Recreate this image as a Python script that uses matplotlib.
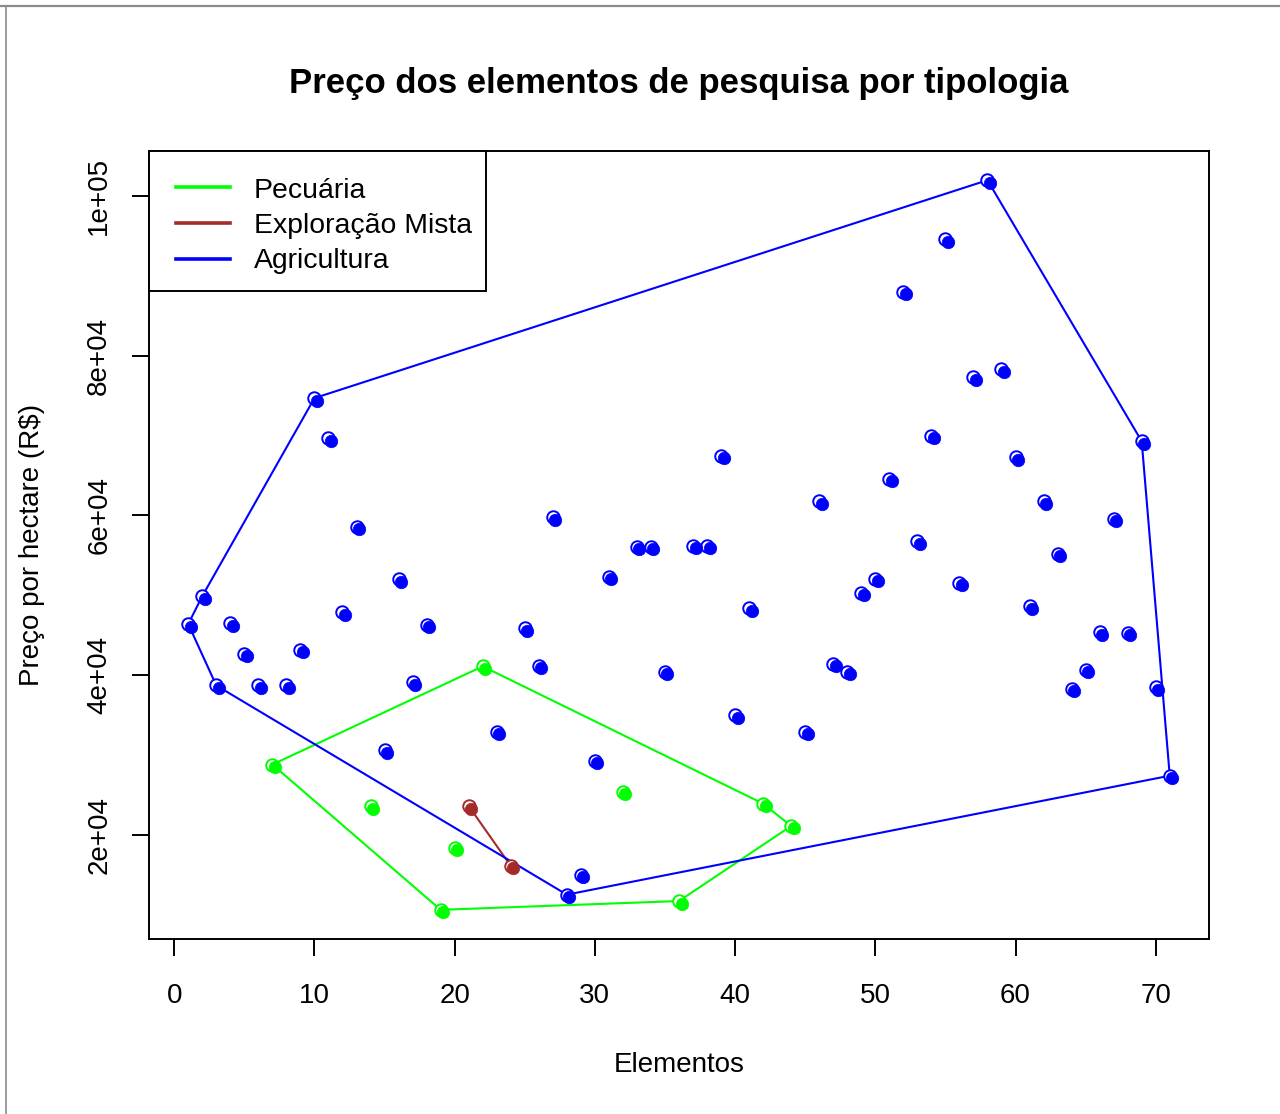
import matplotlib
matplotlib.use("Agg")
import matplotlib.pyplot as plt
from matplotlib.lines import Line2D
from matplotlib.patches import Rectangle
from matplotlib.transforms import ScaledTranslation
import numpy as np

plt.rcParams["font.family"] = ["Liberation Sans", "DejaVu Sans"]

# Element index, price per hectare and typology of each research element
elemento = [1, 2, 3, 4, 5, 6, 7, 8, 9, 10,
            11, 12, 13, 14, 15, 16, 17, 18, 19, 20,
            21, 22, 23, 24, 25, 26, 27, 28, 29, 30,
            31, 32, 33, 34, 35, 36, 37, 38, 39, 40,
            41, 42, 44, 45, 46, 47, 48, 49, 50,
            51, 52, 53, 54, 55, 56, 57, 58, 59, 60,
            61, 62, 63, 64, 65, 66, 67, 68, 69, 70, 71]
preco = [46400, 49900, 38700, 46500, 42700, 38700, 28800, 38700, 43200, 74700,
         69700, 47900, 58600, 23600, 30600, 52000, 39100, 46300, 10600, 18400,
         23600, 41100, 32900, 16100, 45900, 41200, 59800, 12500, 15000, 29300,
         52300, 25400, 56100, 56100, 40400, 11700, 56200, 56200, 67500, 35000,
         48400, 23900, 21100, 32900, 61800, 41400, 40400, 50300, 52100,
         64600, 88000, 56800, 70000, 94600, 51600, 77300, 102000, 78300, 67300,
         48600, 61800, 55200, 38300, 40700, 45400, 59600, 45300, 69300, 38500, 27400]
tipologia = ["A", "A", "A", "A", "A", "A", "P", "A", "A", "A",
             "A", "A", "A", "P", "A", "A", "A", "A", "P", "P",
             "M", "P", "A", "M", "A", "A", "A", "A", "A", "A",
             "A", "P", "A", "A", "A", "P", "A", "A", "A", "A",
             "A", "P", "P", "A", "A", "A", "A", "A", "A",
             "A", "A", "A", "A", "A", "A", "A", "A", "A", "A",
             "A", "A", "A", "A", "A", "A", "A", "A", "A", "A", "A"]

grupos = ["P", "M", "A"]
nomes = ["Pecuária", "Exploração Mista", "Agricultura"]
cores = ["#00FF00", "#A52A2A", "#0000FF"]

W, H = 1280, 1114


def fx(px):
    return px / W


def fy(py):
    return 1 - py / H


def hull(pts):
    """Convex hull (monotone chain), returned as a closed ring."""
    pts = sorted(set(pts))
    if len(pts) < 3:
        return pts

    def cross(o, a, b):
        return (a[0] - o[0]) * (b[1] - o[1]) - (a[1] - o[1]) * (b[0] - o[0])

    lower, upper = [], []
    for p in pts:
        while len(lower) >= 2 and cross(lower[-2], lower[-1], p) <= 0:
            lower.pop()
        lower.append(p)
    for p in reversed(pts):
        while len(upper) >= 2 and cross(upper[-2], upper[-1], p) <= 0:
            upper.pop()
        upper.append(p)
    ring = lower[:-1] + upper[:-1]
    return ring + [ring[0]]


fig = plt.figure(figsize=(W / 100, H / 100), dpi=100)
ax = fig.add_axes([fx(149), fy(939), fx(1209) - fx(149), fy(151) - fy(939)])

x = np.array(elemento)
y = np.array(preco)
t = np.array(tipologia)

shift = ScaledTranslation(2.5 / 100, -2.5 / 100, fig.dpi_scale_trans)

for g, cor in zip(grupos, cores):
    m = t == g
    ring = hull(list(zip(x[m], y[m])))
    hx, hy = zip(*ring)
    ax.plot(hx, hy, color=cor, lw=1.5, zorder=2)

for g, cor in zip(grupos, cores):
    m = t == g
    ax.plot(x[m], y[m], ls="none", marker="o", ms=9, mfc="white",
            mec=cor, mew=1.4, zorder=3)
    ax.plot(x[m], y[m], ls="none", marker="o", ms=9, mfc=cor, mec=cor,
            mew=0.5, zorder=4, transform=ax.transData + shift)

ax.margins(0.04)
ax.set_xticks(np.arange(0, 71, 10))
ax.set_yticks(np.arange(20000, 100001, 20000))
ax.set_yticklabels(["2e+04", "4e+04", "6e+04", "8e+04", "1e+05"])
for s in ax.spines.values():
    s.set_linewidth(1.4)
ax.tick_params(axis="both", length=12.5, width=1.4, labelsize=20)
ax.tick_params(axis="x", pad=19)
ax.tick_params(axis="y", pad=14, labelrotation=90)
for lbl in ax.get_yticklabels():
    lbl.set_va("center")

fig.text(fx(679), fy(84), "Preço dos elementos de pesquisa por tipologia",
         ha="center", va="center", fontsize=25, fontweight="bold")
fig.text(fx(679), fy(1065), "Elementos", ha="center", va="center", fontsize=20)
fig.text(fx(32), fy(545), "Preço por hectare (R$)", ha="center", va="center",
         rotation=90, fontsize=20)

# Legend box in the top-left corner of the plot region
fig.add_artist(Rectangle((fx(149), fy(291)), fx(486) - fx(149), fy(151) - fy(291),
                         transform=fig.transFigure, fill=True, fc="white",
                         ec="black", lw=1.4, zorder=5))
for i, (nome, cor) in enumerate(zip(nomes, cores)):
    yy = fy(187 + 36 * i)
    fig.add_artist(Line2D([fx(176), fx(230)], [yy, yy], color=cor, lw=2.6,
                          transform=fig.transFigure, zorder=6))
    fig.text(fx(254), fy(191 + 35 * i), nome, ha="left", va="center",
             fontsize=20.4, zorder=6)

# Thin grey frame along the top and left edges
fig.add_artist(Line2D([0, 1], [fy(5.5), fy(5.5)], color="#8c8c8c", lw=1.6,
                      transform=fig.transFigure))
fig.add_artist(Line2D([fx(5.5), fx(5.5)], [fy(5.5), 0], color="#8c8c8c", lw=1.2,
                      transform=fig.transFigure))

fig.savefig("out.png", dpi=100, facecolor="white")
